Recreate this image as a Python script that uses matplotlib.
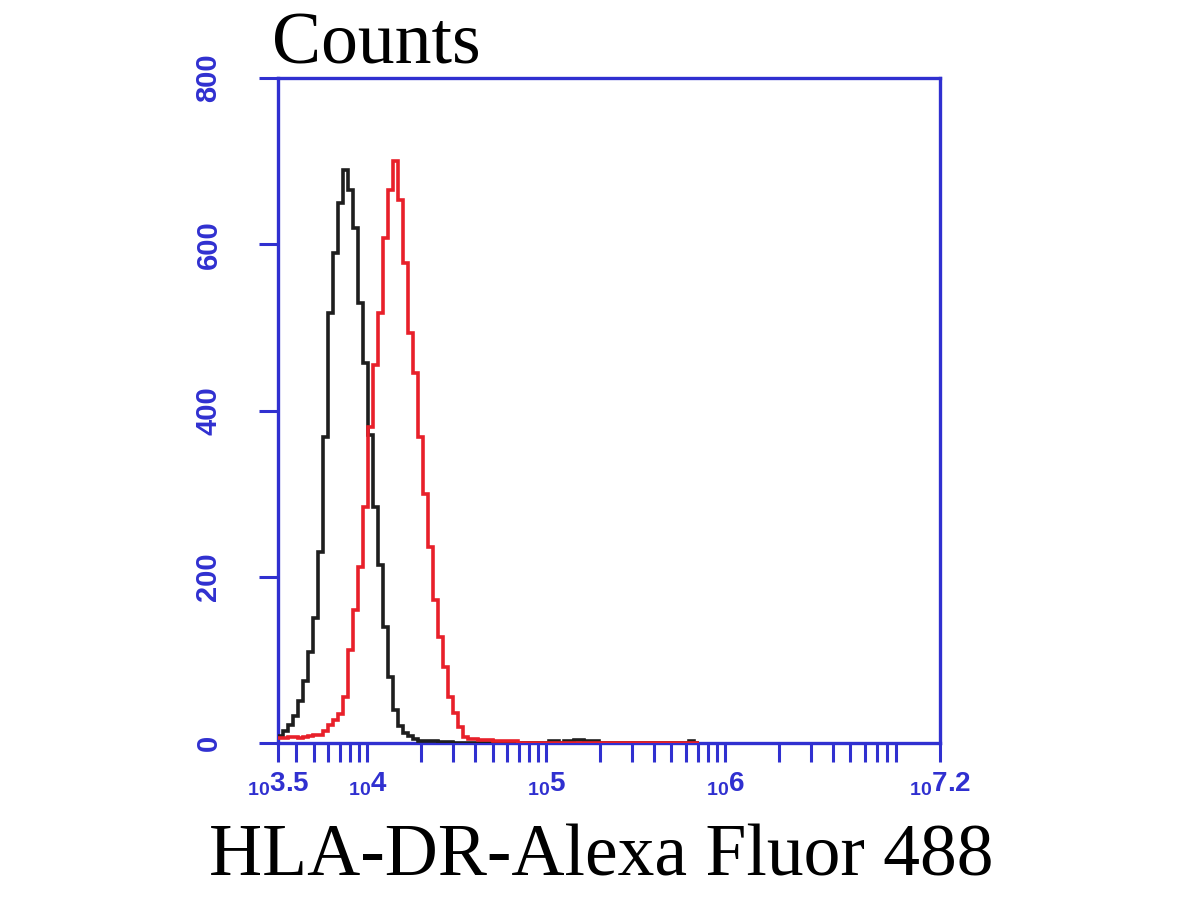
import numpy as np
import matplotlib
matplotlib.use('Agg')
import matplotlib.pyplot as plt
from matplotlib.ticker import FixedLocator, LogLocator, NullFormatter

# histogram channels, log10 of the left edge of the first bin and bin width (decades)
log_start = 3.5
bin_width = 0.028

# isotype control (black)
black_counts = [8, 14, 22, 33, 50, 75, 110, 150, 230, 368, 517, 590, 650, 689,
                665, 620, 529, 457, 370, 284, 214, 140, 80, 40, 20, 12, 8, 5,
                3, 3, 2, 2, 1, 1, 1]
black_tail_bins = [54, 55, 57, 58, 59, 60, 61, 62, 63, 82]
black_tail_counts = [3, 2, 2, 3, 4, 4, 3, 3, 2, 3]

# HLA-DR stained (red)
red_counts = [6, 6, 7, 7, 6, 7, 8, 10, 10, 15, 22, 28, 35, 55, 112, 160, 212,
              284, 380, 455, 517, 607, 665, 700, 653, 577, 493, 445, 368, 300,
              236, 172, 128, 91, 55, 36, 19, 7, 5, 5, 4, 4, 4, 3, 3, 3, 3, 2]

x_ticks = [3.5, 4, 5, 6, 7.2]
x_ticklabels = ['3.5', '4', '5', '6', '7.2']
y_ticks = [0, 200, 400, 600, 800]

blue = '#3030d0'

n_bins = 84
black = np.zeros(n_bins)
black[:len(black_counts)] = black_counts
black[black_tail_bins] = black_tail_counts
red = np.zeros(n_bins)
red[:len(red_counts)] = red_counts
edges = 10 ** (log_start + bin_width * np.arange(n_bins + 1))

plt.rcParams['mathtext.fontset'] = 'custom'
plt.rcParams['mathtext.rm'] = 'Liberation Sans:bold'
plt.rcParams['mathtext.it'] = 'Liberation Sans:bold'

fig = plt.figure(figsize=(12, 9), dpi=100)
ax = fig.add_axes([278 / 1200, 157 / 900, 662 / 1200, 665 / 900])

ax.stairs(black, edges, baseline=None, color='#1e1e1e', lw=2.6, zorder=3)
ax.stairs(red, edges, baseline=None, color='#e8202a', lw=2.6, zorder=3)

ax.set_xscale('log')
ax.set_xlim(10 ** 3.5, 10 ** 7.2)
ax.set_ylim(0, 800)

for s in ax.spines.values():
    s.set_color(blue)
    s.set_linewidth(2.4)

ax.xaxis.set_major_locator(FixedLocator([10 ** v for v in x_ticks]))
ax.set_xticklabels([r'$_{10}$' + t for t in x_ticklabels])
ax.xaxis.set_minor_locator(LogLocator(base=10, subs=np.arange(2, 10)))
ax.xaxis.set_minor_formatter(NullFormatter())
ax.set_yticks(y_ticks)
ax.set_yticklabels([str(v) for v in y_ticks], rotation=90, va='center')

ax.tick_params(axis='both', which='both', direction='out', length=14,
               width=2.2, color=blue, labelcolor=blue)
ax.tick_params(axis='x', pad=6)
ax.tick_params(axis='y', pad=26)
for lab in ax.get_xticklabels():
    lab.set_fontfamily('Liberation Sans')
    lab.set_fontweight('bold')
    lab.set_fontsize(20)
for lab in ax.get_yticklabels():
    lab.set_fontfamily('Liberation Sans')
    lab.set_fontweight('bold')
    lab.set_fontsize(21)

fig.text(272 / 1200, (900 - 63) / 900, 'Counts', family='Liberation Serif',
         fontsize=53, ha='left', va='baseline')
fig.text(601 / 1200, (900 - 876) / 900, 'HLA-DR-Alexa Fluor 488',
         family='Liberation Serif', fontsize=53, ha='center', va='baseline')

fig.savefig('out.png', dpi=100, facecolor='white')
plt.close('all')
